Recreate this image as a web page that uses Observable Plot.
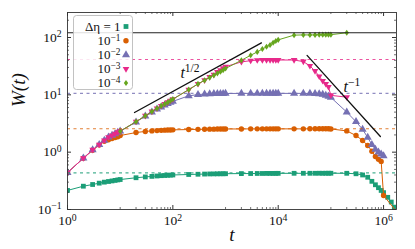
<!DOCTYPE html>
<html><head><meta charset="utf-8">
<script src="https://cdn.jsdelivr.net/npm/d3@7"></script>
<script src="https://cdn.jsdelivr.net/npm/@observablehq/plot@0.6"></script>
<style>body{margin:0;background:#fff} svg{display:block}</style>
</head><body><div id="chart"></div>
<script>
const seriesNames = ["Δη = 1", "10^−1", "10^−2", "10^−3", "10^−4"];
const colors = ["#1b9e77", "#d95f02", "#7570b3", "#e7298a", "#66a61e"];

const tTeal = [1,2,3,4,5,6,7,8,9, 10,20,30,40,50,60,70,80,90, 100,200,300,400,500,600,700,800,900,
  1e3,2e3,3e3,4e3,5e3,6e3,7e3,8e3,9e3, 1e4,2e4,3e4,4e4,5e4,6e4,7e4,8e4,9e4,
  1e5,2e5,3e5,4e5,5e5,6e5,7e5,8e5,9e5, 1e6,1.2e6,1.4e6,1.6e6,2e6];
const wTeal = [0.215,0.255,0.273,0.288,0.300,0.308,0.315,0.322,0.328,
  0.333,0.358,0.370,0.378,0.384,0.389,0.392,0.395,0.398,
  0.400,0.408,0.412,0.415,0.417,0.418,0.419,0.420,0.420,
  0.421,0.423,0.424,0.425,0.425,0.426,0.426,0.426,0.427,
  0.427,0.428,0.428,0.428,0.428,0.429,0.428,0.429,0.429,
  0.429,0.428,0.420,0.400,0.365,0.310,0.270,0.240,0.215,
  0.197,0.163,0.135,0.110,0.078];

const tOrange = [1,2,3,4,5,6,7,8,9, 10,20,30,40,50,60,70,80,90, 100,200,300,400,500,600,700,800,900,
  1e3,2e3,3e3,4e3,5e3,6e3,7e3,8e3,9e3, 1e4,2e4,3e4,4e4,5e4,6e4,7e4,8e4,9e4,
  1e5,2e5,3e5,4e5,5e5,6e5,7e5,8e5,9e5, 1e6,2e6];
const wOrange = [0.44,0.785,1.08,1.34,1.55,1.65,1.73,1.80,1.86,
  1.95,2.20,2.30,2.35,2.38,2.40,2.42,2.43,2.44,
  2.45,2.48,2.50,2.51,2.52,2.52,2.53,2.53,2.53,
  2.54,2.54,2.55,2.55,2.55,2.55,2.55,2.55,2.55,
  2.55,2.55,2.55,2.56,2.56,2.56,2.56,2.56,2.56,
  2.54,2.35,1.95,1.60,1.31,1.04,0.84,0.75,0.69,
  0.175,0.08];

const tPurple = [1,2,3,4,5,6,7,8,9, 10,20,30,40,50,60,70,80,90, 100,200,300,400,500,600,700,800,900,
  1e3,2e3,3e3,4e3,5e3,6e3,7e3,8e3,9e3, 1e4,2e4,3e4,4e4,5e4,6e4,7e4,8e4,9e4,
  1e5,2e5,3e5,4e5,5e5,6e5,7e5,8e5,9e5, 1e6];
const wPurple = [0.44,0.785,1.09,1.35,1.60,1.82,1.96,2.09,2.22,
  2.32,3.35,4.25,5.0,5.6,6.1,6.6,7.0,7.4,
  7.7,9.6,10.1,10.3,10.4,10.45,10.5,10.5,10.5,
  10.55,10.6,10.6,10.6,10.6,10.6,10.6,10.6,10.6,
  10.6,10.6,10.6,10.55,10.5,10.4,10.2,9.8,9.4,
  9.0,5.0,3.4,2.5,1.8,1.35,1.12,1.0,0.92,
  0.86];

const tPink = [1,2,3,4,5,6,7,8,9, 10,20,30,40,50,60,70,80,90, 100,200,300,400,500,600,700,800,900,
  1e3,2e3,3e3,4e3,5e3,6e3,7e3,8e3,9e3, 1e4,2e4,3e4,4e4,5e4,6e4,7e4,8e4,9e4, 1e5,2e5];
const wPink = [0.44,0.785,1.10,1.35,1.60,1.83,1.96,2.09,2.23,
  2.32,3.4,4.3,5.1,5.8,6.4,6.9,7.4,7.9,
  8.4,12.3,15.5,17.9,20.5,22.5,25.0,27.0,29.0,
  31.0,37.5,39.5,40.3,40.5,40.5,40.5,40.5,40.5,
  40.5,40.5,38.0,32.0,26.0,21.0,17.5,15.5,13.7,
  9.8,9.1];

const tGreen = [10,20,30,40,50,60,70,80,90, 100,200,300,400,500,600,700,800,900,
  1e3,2e3,3e3,4e3,5e3,6e3,7e3,8e3,9e3, 1e4,2e4,3e4,4e4,5e4,6e4,7e4,8e4,9e4, 1e5,2e5];
const wGreen = [2.32,3.4,4.3,5.1,5.8,6.4,6.9,7.4,7.9,
  8.4,12.3,15.5,17.9,20.0,21.9,23.7,25.3,27.0,
  28.8,40,49,56,63,69,74,81,87,
  91,110,111,111,111,112,112,112,112,
  112,121];

const plateaus = [0.437, 2.56, 10.6, 41.3];
const saturation = [121];
const slopeHalf = [{t: 18.7, W: 4.93}, {t: 4800, W: 80.5}];
const slopeMinusOne = [{t: 35300, W: 48.8}, {t: 8.7e5, W: 1.88}];
const annotations = [{label: "t^1/2", t: 139, W: 24.6}, {label: "t^−1", t: 1.73e5, W: 14.0}];

const xMajor = [1, 100, 1e4, 1e6];
const xMajorLabels = ["10^0", "10^2", "10^4", "10^6"];
const xMinor = [10,20,30,40,50,60,70,80,90, 1e3,2e3,3e3,4e3,5e3,6e3,7e3,8e3,9e3, 1e5,2e5,3e5,4e5,5e5,6e5,7e5,8e5,9e5];
const yMajor = [0.1, 1, 10, 100];
const yMajorLabels = ["10^−1", "10^0", "10^1", "10^2"];
const yMinor = [0.2,0.3,0.4,0.5,0.6,0.7,0.8,0.9, 2,3,4,5,6,7,8,9, 20,30,40,50,60,70,80,90, 200];

const W = 415, H = 249, mL = 67, mR = 19, mT = 12, mB = 40;
const iw = W - mL - mR, ih = H - mT - mB;

const triDown = {draw(ctx, size) { const s = Math.sqrt(size) * 0.62; ctx.moveTo(-s, -s * 0.6); ctx.lineTo(s, -s * 0.6); ctx.lineTo(0, s * 1.1); ctx.closePath(); }};
const thinDiamond = {draw(ctx, size) { const s = Math.sqrt(size); ctx.moveTo(0, -s * 0.6); ctx.lineTo(s * 0.42, 0); ctx.lineTo(0, s * 0.6); ctx.lineTo(-s * 0.42, 0); ctx.closePath(); }};
const symbols = ["square", "circle", "triangle", triDown, thinDiamond];
const radii = [2.7, 2.7, 3.0, 3.0, 2.9];

const tbl = (ts, ws) => ts.map((t, i) => ({t, W: ws[i]}));
const series = [tbl(tTeal, wTeal), tbl(tOrange, wOrange), tbl(tPurple, wPurple), tbl(tPink, wPink), tbl(tGreen, wGreen)];

const xLab = new Map(xMajor.map((v, i) => [v, xMajorLabels[i]]));
const yLab = new Map(yMajor.map((v, i) => [v, yMajorLabels[i]]));
const axisColor = "#333";

const marks = [];
series.forEach((d, i) => {
  marks.push(Plot.line(d, {x: "t", y: "W", stroke: colors[i], strokeWidth: 1, clip: true}));
  marks.push(Plot.dot(d, {x: "t", y: "W", fill: colors[i], symbol: symbols[i], r: radii[i], clip: true}));
});
marks.push(Plot.ruleY(plateaus, {y: d => d, stroke: (d, i) => colors[i], strokeWidth: 1.2, strokeOpacity: 0.8, strokeDasharray: "3,3.5"}));
marks.push(Plot.ruleY(saturation, {y: d => d, stroke: "#222", strokeWidth: 1}));
marks.push(Plot.line(slopeHalf, {x: "t", y: "W", stroke: "#111", strokeWidth: 1.3}));
marks.push(Plot.line(slopeMinusOne, {x: "t", y: "W", stroke: "#111", strokeWidth: 1.3}));
marks.push(Plot.text(annotations, {x: "t", y: "W", text: "label", textAnchor: "start", lineAnchor: "middle", fontSize: 16, fontStyle: "italic", fill: "#111"}));

// ticks (inward, all four sides)
marks.push(Plot.tickX(xMajor, {x: d => d, insetTop: ih - 4, stroke: axisColor}));
marks.push(Plot.tickX(xMajor, {x: d => d, insetBottom: ih - 4, stroke: axisColor}));
marks.push(Plot.tickX(xMinor, {x: d => d, insetTop: ih - 2, stroke: axisColor, strokeWidth: 0.7}));
marks.push(Plot.tickX(xMinor, {x: d => d, insetBottom: ih - 2, stroke: axisColor, strokeWidth: 0.7}));
marks.push(Plot.tickY(yMajor, {y: d => d, insetRight: iw - 4, stroke: axisColor}));
marks.push(Plot.tickY(yMajor, {y: d => d, insetLeft: iw - 4, stroke: axisColor}));
marks.push(Plot.tickY(yMinor, {y: d => d, insetRight: iw - 2, stroke: axisColor, strokeWidth: 0.7}));
marks.push(Plot.tickY(yMinor, {y: d => d, insetLeft: iw - 2, stroke: axisColor, strokeWidth: 0.7}));
marks.push(Plot.frame({stroke: axisColor, strokeWidth: 0.9}));
marks.push(Plot.axisX(xMajor, {tickSize: 0, tickPadding: 6, tickFormat: d => xLab.get(d), fontSize: 13.5, label: null}));
marks.push(Plot.axisY(yMajor, {tickSize: 0, tickPadding: 6, tickFormat: d => yLab.get(d), fontSize: 13.5, label: null}));
marks.push(Plot.text(["W(t)"], {frameAnchor: "left", dx: -49, dy: -4, rotate: -90, text: d => d, fontSize: 19, fontStyle: "italic", fill: "#111"}));
marks.push(Plot.text(["t"], {frameAnchor: "bottom", dy: 31, text: d => d, fontSize: 19, fontStyle: "italic", fill: "#111"}));

// legend
marks.push(Plot.frame({fill: "white", fillOpacity: 0.85, stroke: "#bbb", strokeWidth: 0.9, rx: 3, insetLeft: 6, insetTop: 3, insetRight: iw - 65, insetBottom: ih - 77}));
const rowDy = [14, 28.2, 42.4, 56.6, 70.5];
seriesNames.forEach((name, i) => {
  marks.push(Plot.text([name], {frameAnchor: "top-left", dx: 53, dy: rowDy[i], text: d => d, textAnchor: "end", lineAnchor: "middle", fontSize: 13, fill: "#111"}));
  marks.push(Plot.dot([name], {frameAnchor: "top-left", dx: 58.5, dy: rowDy[i], fill: colors[i], symbol: symbols[i], r: radii[i]}));
});

const chart = Plot.plot({
  width: W, height: H,
  marginLeft: mL, marginRight: mR, marginTop: mT, marginBottom: mB,
  style: {fontFamily: "'Liberation Serif', serif", background: "white", color: "#111"},
  x: {type: "log", domain: [1, 1.76e6], axis: null},
  y: {type: "log", domain: [0.1, 273], axis: null},
  marks
});

chart.querySelectorAll("text").forEach(t => {
  const leaves = t.querySelectorAll("tspan").length ? [...t.querySelectorAll("tspan")] : [t];
  leaves.forEach(n => {
    const s = n.textContent;
    const k = s.indexOf("^");
    if (k < 0) return;
    n.textContent = s.slice(0, k);
    const sup = document.createElementNS("http://www.w3.org/2000/svg", "tspan");
    sup.setAttribute("dy", "-0.45em");
    sup.setAttribute("font-size", "72%");
    sup.setAttribute("font-style", "normal");
    sup.textContent = s.slice(k + 1);
    n.appendChild(sup);
  });
});
document.getElementById("chart").appendChild(chart);
</script>
</body></html>
